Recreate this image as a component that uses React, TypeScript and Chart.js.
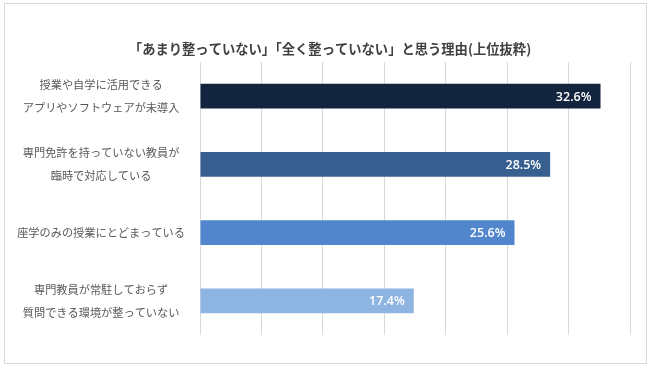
import React, { useEffect, useRef } from "react";
import { Chart, registerables } from "chart.js";

Chart.register(...registerables);

const titleText = "「あまり整っていない」「全く整っていない」と思う理由(上位抜粋)";
const categories: string[][] = [
  ["授業や自学に活用できる", "アプリやソフトウェアが未導入"],
  ["専門免許を持っていない教員が", "臨時で対応している"],
  ["座学のみの授業にとどまっている"],
  ["専門教員が常駐しておらず", "質問できる環境が整っていない"],
];
const values: number[] = [32.6, 28.5, 25.6, 17.4];
const barColors: string[] = ["#13243F", "#375F8F", "#5186CD", "#8EB4E2"];
const xTicks = { min: 0, max: 35, step: 5 };

const JP = '"Noto Sans CJK JP", "Noto Sans", sans-serif';

export default function App() {
  const ref = useRef<HTMLCanvasElement | null>(null);

  useEffect(() => {
    document.body.style.margin = "0";
    const canvas = ref.current;
    if (!canvas) return;

    const labelPlugin = {
      id: "valueLabels",
      afterDatasetsDraw(chart: any) {
        const ctx = chart.ctx;
        const meta = chart.getDatasetMeta(0);
        ctx.save();
        ctx.font = '600 12.5px "Open Sans", "DejaVu Sans", sans-serif';
        ctx.fillStyle = "#FFFFFF";
        ctx.textAlign = "right";
        ctx.textBaseline = "middle";
        meta.data.forEach((el: any, i: number) => {
          ctx.fillText(values[i].toFixed(1) + "%", el.x - 9, el.y + 1);
        });
        ctx.restore();
      },
    };

    const titlePlugin = {
      id: "customTitle",
      afterDraw(chart: any) {
        const ctx = chart.ctx;
        ctx.save();
        ctx.font = `600 13.3px ${JP}`;
        ctx.fillStyle = "#404040";
        ctx.textAlign = "center";
        ctx.textBaseline = "middle";
        ctx.fillText(titleText, 330, 49);
        ctx.restore();
      },
    };

    const chart = new Chart(canvas, {
      type: "bar",
      data: {
        labels: categories,
        datasets: [
          {
            data: values,
            backgroundColor: barColors,
            barPercentage: 0.36,
            categoryPercentage: 1,
          },
        ],
      },
      options: {
        indexAxis: "y",
        animation: false,
        responsive: false,
        maintainAspectRatio: false,
        layout: { padding: { top: 62, bottom: 22, right: 19, left: 0 } },
        plugins: {
          legend: { display: false },
          title: { display: false },
          tooltip: { enabled: false },
        },
        scales: {
          x: {
            min: xTicks.min,
            max: xTicks.max,
            ticks: { display: false, stepSize: xTicks.step },
            grid: { color: "#D9D9D9", drawTicks: false, lineWidth: 1 },
            border: { display: false },
            afterFit(scale: any) {
              scale.height = 0;
            },
          },
          y: {
            grid: { display: false, drawTicks: false },
            border: { display: false },
            ticks: {
              crossAlign: "center",
              padding: 15,
              color: "#595959",
              font: { family: JP, size: 11.2, lineHeight: 2.05 },
            },
            afterFit(scale: any) {
              scale.width = 200;
            },
          },
        },
      },
      plugins: [labelPlugin, titlePlugin],
    } as any);

    return () => chart.destroy();
  }, []);

  return (
    <div style={{ position: "relative", width: 649, height: 373, background: "#fff" }}>
      <div
        style={{
          position: "absolute",
          left: 4,
          top: 3,
          width: 641,
          height: 359,
          border: "1px solid #D9D9D9",
          boxSizing: "content-box",
        }}
      />
      <canvas
        ref={ref}
        width={649}
        height={373}
        style={{ position: "absolute", left: 0, top: 0, width: 649, height: 373 }}
      />
    </div>
  );
}
